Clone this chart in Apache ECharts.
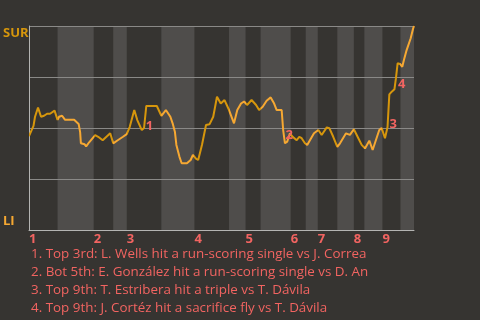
<!DOCTYPE html>
<html><head><meta charset="utf-8">
<script src="https://cdn.jsdelivr.net/npm/echarts@6/dist/echarts.min.js"></script>
<style>html,body{margin:0;padding:0;background:#363431;}#c{width:480px;height:320px;}</style>
</head><body><div id="c"></div>
<script>
// x = pitch number in the game, y = SUR win probability (%)
const pitch = [0,3,4,6,8,10,12,14,17,19,20,22,24,30,33,34,34.5,37,38,40,44,46,49,54,56,59,62.5,65,67,70,72,75,76.5,78,85,88,91,94,95.5,97,98,100,101.5,105,107.5,109,111,112.5,115,117.7,120,122.5,125,127.5,130,132.5,135,136.3,138.5,141,143,145,148,151,153,155.4,158,160.7,163,164.7,168,169,170.2,171.7,173.5,175.3,178,179.7,181.3,183.5,185,186.8,189.5,192.4,194.6,198,199.7,202.3,205,206.8,210.8,213.4,216,219,221.2,223.4,226.3,228.5,229.4,232.9,234.5,236.7,237.7,238.4,239.6,241.2,243,244,245.1,246.7,248.2,249.3,251.1,253.8,255.5,256];
const winProb = [46,51,55.5,60,55.5,56,57,57,58.5,54,55.5,56,54,54,52,48,42.5,42,41,43,46.5,45.7,44,47.4,42.5,44,45.7,47,50.6,58.8,53.9,49,50,60.8,60.8,56,58.8,55.5,52.3,48.2,41.7,36,32.7,32.7,34.3,36.8,35,34.3,41.7,51.5,51.8,55.5,65.3,62,63.7,59.7,54.8,52.3,58.8,62,63,61.3,63.7,61.3,58.8,60.4,63.4,65,62,58.8,58.8,49,42.5,43.3,47.4,45.7,44,45.7,45,42.5,41.7,44,47.4,49,46.6,50.3,49.9,45.7,40.8,42.5,47.4,46.6,49.4,45,41.7,40,43.8,39.2,39.2,49,50,45,45,50.5,66.5,67.8,69,74.4,81.7,81.4,80,83.3,88.2,94,99,100];
// half-inning start pitches (top 1, bot 1, top 2, ...) and game end
const halfStarts = [0,19,43,56,65,88,110,133,144,154,174,184,192,205,216,223,235,247];
const gameEnd = 256;
const inningLabels = ['1','2','3','4','5','6','7','8','9'];
const markerPitch = [80.1,173.1,242.2,247.8];
const markerProb = [51,46.6,52,71.4];
const markerLabels = ['1','2','3','4'];
const events = [
  '1. Top 3rd: L. Wells hit a run-scoring single vs J. Correa',
  '2. Bot 5th: E. González hit a run-scoring single vs D. An',
  '3. Top 9th: T. Estribera hit a triple vs T. Dávila',
  '4. Top 9th: J. Cortéz hit a sacrifice fly vs T. Dávila'
];
const teamTop = 'SUR', teamBottom = 'LI';

const FONT = '"Open Sans", Lato, sans-serif';
const RED = '#f26461';
const GOLD = '#d6960c';
const ORANGE = '#f6a832';

const inningStarts = halfStarts.filter((v,i)=>i%2===0);
const bands = [];
const pieces = [];
for (let i=0;i<halfStarts.length;i++){
  const a = halfStarts[i], b = i+1<halfStarts.length ? halfStarts[i+1] : gameEnd;
  if (i%2===1) bands.push([{xAxis:a},{xAxis:b}]);
  pieces.push({gte:a, lt:(i+1<halfStarts.length? b : gameEnd+1), color: i%2===0 ? GOLD : ORANGE});
}

const chart = echarts.init(document.getElementById('c'));
chart.setOption({
  backgroundColor:'#363431',
  animation:false,
  textStyle:{fontFamily:FONT},
  title:{text:events.join('\n'), left:26, top:240, padding:5,
    textStyle:{fontSize:13.4, fontWeight:'normal', color:RED, lineHeight:18, fontFamily:FONT}},
  grid:{left:29, top:26, width:385, height:204},
  visualMap:{show:false, type:'piecewise', dimension:0, seriesIndex:1, pieces:pieces},
  xAxis:{type:'value', min:0, max:gameEnd, z:3,
    axisLine:{show:true, lineStyle:{color:'#b4b4b2', width:1}},
    axisTick:{show:false}, splitLine:{show:false},
    axisLabel:{customValues:inningStarts, formatter:(v)=>inningLabels[inningStarts.indexOf(v)]||'',
      color:RED, fontWeight:'bold', fontSize:13, align:'left', margin:3, fontFamily:FONT}},
  yAxis:{type:'value', min:0, max:100, interval:25, z:3,
    axisLine:{show:true, lineStyle:{color:'#b4b4b2', width:1}},
    axisTick:{show:false},
    splitLine:{show:true, lineStyle:{color:'#8a8987', width:1}},
    axisLabel:{customValues:[0,100], align:'left', margin:26,
      formatter:(v)=> v===100 ? '{a|'+teamTop+'}' : '{b|'+teamBottom+'}',
      rich:{a:{color:GOLD, fontWeight:'bold', fontSize:13, padding:[14,0,0,0], fontFamily:FONT},
            b:{color:ORANGE, fontWeight:'bold', fontSize:13, padding:[0,0,18,0], fontFamily:FONT}}}},
  series:[
    {type:'line', z:1, data:[], silent:true,
     markArea:{silent:true, itemStyle:{color:'#4f4d4b'}, data:bands}},
    {type:'line', z:5, data:pitch.map((p,i)=>[p,winProb[i]]), symbol:'none', lineStyle:{width:2}},
    {type:'scatter', z:6, symbolSize:0, itemStyle:{opacity:1, color:RED}, data:markerPitch.map((p,i)=>[p,markerProb[i]]),
     label:{show:true, position:'inside', opacity:1, formatter:(p)=>markerLabels[p.dataIndex], color:RED, fontWeight:'bold', fontSize:13, fontFamily:FONT, textBorderWidth:0}}
  ]
});
</script></body></html>
